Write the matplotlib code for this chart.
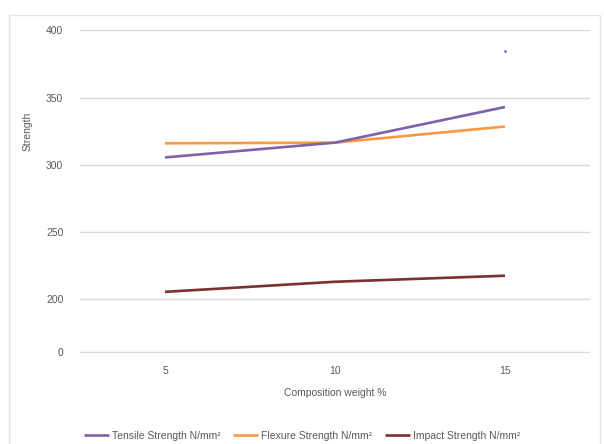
import matplotlib
matplotlib.use('Agg')
import matplotlib.pyplot as plt
from matplotlib.patches import Rectangle

# data
categories = ['5', '10', '15']
tensile = [305.5, 316.5, 343]
flexure = [316, 316.5, 328.5]
impact = [205.5, 213, 217.5]
stray_point = (2, 385)  # odd little blue dot above the 15 column

ytick_vals = [160.7, 200, 250, 300, 350, 400]
ytick_labels = ['0', '200', '250', '300', '350', '400']

plt.rcParams['font.family'] = ['Liberation Sans', 'DejaVu Sans']
txt = '#595959'
grid = '#D9D9D9'

fig = plt.figure(figsize=(6.04, 4.44), dpi=100)
# chart area border
fig.patches.append(Rectangle((9/604, -0.02), 591/604, 1.02 - 15/444,
                             transform=fig.transFigure, fill=False,
                             edgecolor='#E3E3E3', linewidth=1.0))

ax = fig.add_axes([80/604, (444-353)/444, 510/604, 323/444])
x = range(len(categories))
ax.plot(x, tensile, color='#7F60AA', lw=1.9, solid_capstyle='butt', label='Tensile Strength N/mm²', zorder=3)
ax.plot(x, flexure, color='#F79A42', lw=1.9, solid_capstyle='butt', label='Flexure Strength N/mm²', zorder=2)
ax.plot(x, impact, color='#7E2F2F', lw=1.9, solid_capstyle='butt', label='Impact Strength N/mm²', zorder=3)
ax.plot([stray_point[0]], [stray_point[1]], 'o', color='#6F6FF0', ms=2.0, mew=0)

ax.set_xlim(-0.5, 2.5)
ax.set_ylim(160.0, 400.3)
ax.set_xticks(list(x))
ax.set_xticklabels(categories)
ax.set_yticks(ytick_vals)
ax.set_yticklabels(ytick_labels)
ax.yaxis.grid(True, color=grid, lw=1.0)
ax.set_axisbelow(True)
for s in ax.spines.values():
    s.set_visible(False)
ax.tick_params(length=0, colors=txt, labelsize=7.5)
ax.tick_params(axis='y', pad=12)
ax.tick_params(axis='x', pad=9)

ax.set_xlabel('Composition weight %', color=txt, fontsize=7.5, labelpad=9)
ax.set_ylabel('Strength', color=txt, fontsize=7.5)
ax.yaxis.set_label_coords((33 - 80) / 510, (353 - 131) / 323)

leg = fig.legend(loc='center', bbox_to_anchor=(0.5, 1 - 436/444), ncol=3,
                 frameon=False, fontsize=7.5, handlelength=2.4,
                 handletextpad=0.3, columnspacing=1.2)
for t in leg.get_texts():
    t.set_color(txt)

fig.savefig('out.png', dpi=100)
